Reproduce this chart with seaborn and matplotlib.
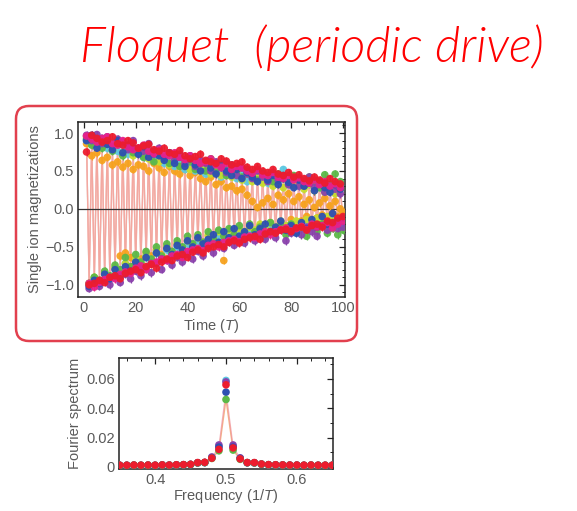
import numpy as np
import pandas as pd
import matplotlib
matplotlib.use("Agg")
import matplotlib.pyplot as plt
import seaborn as sns
from matplotlib.patches import FancyBboxPatch
from matplotlib.transforms import IdentityTransform
from matplotlib.ticker import MultipleLocator, FixedLocator, FixedFormatter

# ---------------- data: single-ion magnetizations ----------------
ions = ["orange", "cyan", "lime", "green", "purple", "blue", "pink", "red"]
ion_colors = {"red": "#ec1c2e", "pink": "#e8208a", "blue": "#2d50b2", "purple": "#8a42ac",
              "green": "#5cb848", "orange": "#f6a21f", "cyan": "#5cc8e2", "lime": "#c6dc2e"}

t_up = list(range(1, 100, 2))    # periods with positive magnetization
t_low = list(range(2, 101, 2))   # periods with negative magnetization

red_up = [.75, .97, .93, .88, .9, .95, .86, .84, .9, .87, .8, .83, .85, .78, .76, .8, .74, .72, .77, .7,
          .66, .69, .72, .64, .62, .6, .66, .63, .58, .6, .62, .55, .52, .56, .5, .48, .52, .46, .44, .48,
          .42, .45, .4, .37, .42, .38, .34, .4, .36, .33]
red_low = [-1.0, -.98, -.94, -.97, -.9, -.88, -.92, -.85, -.82, -.8, -.84, -.76, -.73, -.78, -.7, -.66, -.68, -.62, -.6, -.64,
           -.57, -.54, -.58, -.52, -.5, -.47, -.5, -.44, -.42, -.45, -.4, -.38, -.36, -.4, -.33, -.3, -.32, -.28, -.27, -.3,
           -.25, -.24, -.28, -.22, -.2, -.24, -.16, -.18, -.12, -.1]
pink_up = [.96, .92, .88, .93, .95, .86, .84, .9, .82, .78, .8, .84, .76, .73, .78, .72, .7, .74, .68, .65,
           .7, .64, .6, .62, .66, .58, .55, .6, .52, .56, .54, .5, .47, .52, .45, .44, .48, .42, .4, .44,
           .38, .41, .36, .34, .38, .32, .36, .3, .33, .28]
pink_low = [-.98, -1.03, -.97, -.93, -.9, -.92, -.86, -.83, -.85, -.78, -.75, -.8, -.72, -.7, -.66, -.68, -.62, -.6, -.64, -.56,
            -.54, -.52, -.55, -.48, -.46, -.5, -.44, -.42, -.4, -.43, -.37, -.36, -.38, -.33, -.3, -.34, -.3, -.27, -.25, -.29,
            -.26, -.23, -.27, -.2, -.24, -.22, -.18, -.25, -.2, -.16]
blue_up = [.9, .97, .8, .93, .85, .78, .9, .74, .84, .8, .72, .82, .68, .76, .7, .64, .74, .6, .68, .56,
           .66, .58, .5, .62, .54, .46, .58, .5, .44, .52, .4, .48, .42, .36, .46, .38, .44, .32, .4, .35,
           .28, .38, .3, .34, .24, .36, .28, .22, .32, .26]
blue_low = [-1.02, -.94, -.98, -.86, -.92, -.8, -.88, -.76, -.82, -.7, -.78, -.64, -.72, -.58, -.66, -.52, -.6, -.48, -.54, -.42,
            -.5, -.38, -.46, -.4, -.34, -.44, -.3, -.38, -.26, -.36, -.3, -.22, -.34, -.26, -.2, -.3, -.24, -.16, -.28, -.22,
            -.32, -.18, -.26, -.14, -.24, -.1, -.2, -.06, -.16, -.12]
purple_up = [.97, .9, .98, .86, .95, .82, .92, .88, .78, .9, .8, .76, .86, .72, .8, .68, .74, .64, .72, .6,
             .7, .56, .64, .6, .5, .62, .54, .48, .58, .44, .54, .46, .4, .5, .42, .36, .46, .38, .44, .32,
             .4, .3, .36, .42, .28, .34, .22, .3, .26, .2]
purple_low = [-1.05, -.98, -1.02, -.94, -1.0, -.9, -.97, -.86, -.92, -.82, -.88, -.78, -.84, -.72, -.8, -.68, -.74, -.64, -.7, -.6,
              -.66, -.56, -.62, -.5, -.58, -.46, -.52, -.44, -.48, -.4, -.45, -.36, -.42, -.34, -.4, -.3, -.38, -.28, -.42, -.32,
              -.26, -.34, -.24, -.3, -.36, -.22, -.28, -.2, -.26, -.24]
green_up = [.92, .84, .9, .8, .86, .76, .88, .7, .82, .74, .78, .68, .76, .62, .72, .66, .6, .7, .56, .64,
            .62, .52, .6, .5, .66, .48, .58, .44, .54, .5, .42, .52, .46, .38, .48, .44, .36, .46, .4, .34,
            .44, .38, .3, .42, .36, .28, .45, .32, .46, .36]
green_low = [-.98, -.9, -.94, -.82, -.88, -.74, -.8, -.64, -.76, -.6, -.7, -.56, -.66, -.5, -.62, -.46, -.56, -.42, -.5, -.36,
             -.46, -.34, -.44, -.3, -.4, -.28, -.36, -.26, -.34, -.22, -.32, -.2, -.3, -.24, -.36, -.18, -.28, -.22, -.34, -.2,
             -.3, -.26, -.36, -.24, -.3, -.2, -.32, -.26, -.34, -.28]
orange_up = [.86, .7, .74, .64, .68, .58, .62, .55, .6, .52, .58, .56, .5, .6, .54, .48, .56, .5, .46, .52,
             .44, .48, .4, .36, .42, .32, .36, .28, .3, .24, .26, .18, .1, .02, .08, .14, .06, .18, .12, .2,
             .1, .16, .06, .12, .02, .08, .14, .04, .1, .0]
orange_low = [-.98, -.92, -.96, -.86, -.9, -.78, -.62, -.58, -.64, -.72, -.66, -.58, -.62, -.54, -.6, -.5, -.56, -.46, -.52, -.42,
              -.48, -.4, -.44, -.36, -.42, -.34, -.68, -.38, -.32, -.28, -.36, -.26, -.3, -.22, -.28, -.2, -.26, -.18, -.24, -.14,
              -.2, -.16, -.1, -.18, -.12, -.08, -.14, -.06, -.1, -.04]
cyan_up = [.9, .95, .84, .9, .8, .88, .76, .84, .72, .8, .74, .68, .78, .64, .72, .6, .68, .56, .64, .52,
           .6, .5, .58, .46, .54, .48, .42, .52, .46, .4, .5, .36, .48, .4, .44, .34, .42, .36, .52, .32,
           .4, .3, .38, .32, .36, .28, .34, .26, .32, .3]
cyan_low = [-1.0, -.92, -.97, -.84, -.9, -.78, -.86, -.72, -.8, -.68, -.76, -.62, -.7, -.58, -.64, -.54, -.6, -.5, -.56, -.46,
            -.52, -.42, -.48, -.4, -.44, -.36, -.42, -.34, -.4, -.3, -.36, -.28, -.34, -.26, -.32, -.24, -.3, -.22, -.28, -.2,
            -.26, -.22, -.18, -.24, -.2, -.16, -.22, -.14, -.2, -.16]
lime_up = [.95, .86, .92, .82, .88, .78, .85, .74, .82, .7, .78, .72, .66, .74, .62, .7, .58, .66, .56, .62,
           .52, .6, .5, .56, .46, .54, .44, .5, .42, .48, .38, .46, .36, .42, .34, .4, .3, .38, .28, .36,
           .3, .34, .26, .32, .24, .3, .22, .28, .2, .26]
lime_low = [-.99, -.9, -.95, -.84, -.9, -.78, -.84, -.72, -.78, -.66, -.72, -.62, -.68, -.56, -.62, -.5, -.58, -.46, -.52, -.42,
            -.48, -.38, -.44, -.34, -.4, -.3, -.36, -.28, -.34, -.26, -.3, -.24, -.28, -.2, -.26, -.18, -.24, -.16, -.22, -.2,
            -.16, -.22, -.14, -.2, -.12, -.18, -.1, -.16, -.12, -.14]

mag_up = {"red": red_up, "pink": pink_up, "blue": blue_up, "purple": purple_up, "green": green_up,
          "orange": orange_up, "cyan": cyan_up, "lime": lime_up}
mag_low = {"red": red_low, "pink": pink_low, "blue": blue_low, "purple": purple_low, "green": green_low,
           "orange": orange_low, "cyan": cyan_low, "lime": lime_low}

# ---------------- data: Fourier spectrum ----------------
freq = [0.35, 0.36, 0.37, 0.38, 0.39, 0.40, 0.41, 0.42, 0.43, 0.44, 0.45, 0.46, 0.47, 0.48, 0.49, 0.50,
        0.51, 0.52, 0.53, 0.54, 0.55, 0.56, 0.57, 0.58, 0.59, 0.60, 0.61, 0.62, 0.63, 0.64, 0.65]
spec_red = [0.0012, 0.0012, 0.0013, 0.0012, 0.0013, 0.0012, 0.0014, 0.0013, 0.0015, 0.0016, 0.0018, 0.0030, 0.0032, 0.0060, 0.0120, 0.0560,
            0.0130, 0.0055, 0.0030, 0.0030, 0.0020, 0.0016, 0.0015, 0.0014, 0.0013, 0.0013, 0.0012, 0.0013, 0.0012, 0.0012, 0.0012]
spec_cyan = [0.0011, 0.0011, 0.0012, 0.0011, 0.0012, 0.0011, 0.0013, 0.0012, 0.0014, 0.0015, 0.0017, 0.0028, 0.0030, 0.0065, 0.0140, 0.0590,
             0.0140, 0.0060, 0.0029, 0.0028, 0.0019, 0.0015, 0.0014, 0.0013, 0.0012, 0.0012, 0.0011, 0.0012, 0.0011, 0.0011, 0.0011]
spec_purple = [0.0011, 0.0011, 0.0012, 0.0011, 0.0012, 0.0011, 0.0013, 0.0012, 0.0014, 0.0015, 0.0017, 0.0028, 0.0030, 0.0068, 0.0150, 0.0580,
               0.0150, 0.0062, 0.0029, 0.0028, 0.0019, 0.0015, 0.0014, 0.0013, 0.0012, 0.0012, 0.0011, 0.0012, 0.0011, 0.0011, 0.0011]
spec_blue = [0.0011, 0.0011, 0.0012, 0.0011, 0.0012, 0.0011, 0.0013, 0.0012, 0.0014, 0.0015, 0.0017, 0.0028, 0.0030, 0.0062, 0.0135, 0.0510,
             0.0135, 0.0058, 0.0029, 0.0028, 0.0019, 0.0015, 0.0014, 0.0013, 0.0012, 0.0012, 0.0011, 0.0012, 0.0011, 0.0011, 0.0011]
spec_green = [0.0011, 0.0011, 0.0012, 0.0011, 0.0012, 0.0011, 0.0013, 0.0012, 0.0014, 0.0015, 0.0017, 0.0028, 0.0030, 0.0058, 0.0110, 0.0460,
              0.0115, 0.0052, 0.0029, 0.0028, 0.0019, 0.0015, 0.0014, 0.0013, 0.0012, 0.0012, 0.0011, 0.0012, 0.0011, 0.0011, 0.0011]
spectra = {"cyan": spec_cyan, "purple": spec_purple, "blue": spec_blue, "green": spec_green, "red": spec_red}

# ---------------- tables ----------------
rows = []
for ion in ions:
    assert len(mag_up[ion]) == len(t_up), (ion, "up", len(mag_up[ion]))
    assert len(mag_low[ion]) == len(t_low), (ion, "low", len(mag_low[ion]))
    for t, m in zip(t_up, mag_up[ion]):
        rows.append((ion, t, m))
    for t, m in zip(t_low, mag_low[ion]):
        rows.append((ion, t, m))
mag_df = pd.DataFrame(rows, columns=["ion", "t", "m"])

srows = []
for ion, vals in spectra.items():
    assert len(vals) == len(freq), ion
    for f, v in zip(freq, vals):
        srows.append((ion, f, v))
spec_df = pd.DataFrame(srows, columns=["ion", "f", "a"])

# ---------------- figure ----------------
sns.set_style("white")
plt.rcParams["font.family"] = ["Liberation Sans", "DejaVu Sans"]
plt.rcParams["mathtext.fontset"] = "custom"
plt.rcParams["mathtext.it"] = "Liberation Sans:italic"
plt.rcParams["mathtext.rm"] = "Liberation Sans"

W, H = 577, 511
fig = plt.figure(figsize=(W / 100, H / 100), dpi=100)
fig.patch.set_facecolor("white")

gray = "#5a5a5a"
fs = 10.5

# handwritten-like title
fig.text(312 / W, 1 - 48 / H, "Floquet  (periodic drive)", color="#ff0000", fontsize=35,
         family=["Lato", "DejaVu Sans"], style="italic", weight=300, ha="center", va="center")

# red rounded frame around the top panel
frame = FancyBboxPatch((16, H - 341), 341, 235, boxstyle="round,pad=0,rounding_size=13",
                       transform=IdentityTransform(), fill=False, ec="#e2404e", lw=1.8)
fig.add_artist(frame)

# ---------- top panel ----------
ax = fig.add_axes([78 / W, (H - 297) / H, 267 / W, 175 / H])
for ion in ions:
    sub = mag_df[mag_df.ion == ion].sort_values("t")
    sns.lineplot(data=sub, x="t", y="m", ax=ax, color="#f3a49c", lw=0.9, alpha=0.3,
                 estimator=None, sort=True, legend=False, zorder=1)
ax.axhline(0, color="#333333", lw=0.9, zorder=2)
for ion in ions:
    sub = mag_df[mag_df.ion == ion]
    ax.errorbar(sub.t, sub.m, yerr=0.05, fmt="none", ecolor=ion_colors[ion], elinewidth=0.9, zorder=3)
sns.scatterplot(data=mag_df, x="t", y="m", hue="ion", hue_order=ions, palette=ion_colors,
                s=30, linewidth=0, legend=False, ax=ax, zorder=4, alpha=0.95)
ax.set_xlim(-2.3, 100.8)
ax.set_ylim(-1.16, 1.145)
ax.xaxis.set_major_locator(MultipleLocator(20))
ax.xaxis.set_minor_locator(MultipleLocator(5))
ax.yaxis.set_major_locator(FixedLocator([-1.0, -0.5, 0.0, 0.5, 1.0]))
ax.yaxis.set_major_formatter(FixedFormatter(["\u22121.0", "\u22120.5", "0.0", "0.5", "1.0"]))
ax.yaxis.set_minor_locator(MultipleLocator(0.1))
ax.set_xlabel("Time ($\\mathit{T}$)", fontsize=fs, color=gray, labelpad=1)
ax.set_ylabel("Single ion magnetizations", fontsize=fs, color=gray, labelpad=2)

# ---------- bottom panel ----------
bx = fig.add_axes([119 / W, (H - 469) / H, 214 / W, 111 / H])
sns.lineplot(data=spec_df[spec_df.ion == "green"], x="f", y="a", ax=bx, color="#f2a56a", lw=1.0,
             alpha=0.8, estimator=None, legend=False, zorder=1)
sns.lineplot(data=spec_df[spec_df.ion == "blue"], x="f", y="a", ax=bx, color="#f0909a", lw=1.0,
             alpha=0.7, estimator=None, legend=False, zorder=1)
sns.scatterplot(data=spec_df, x="f", y="a", hue="ion", hue_order=list(spectra.keys()), palette=ion_colors,
                s=30, linewidth=0, legend=False, ax=bx, zorder=3)
bx.set_xlim(0.349, 0.651)
bx.set_ylim(-0.0014, 0.0743)
bx.xaxis.set_major_locator(FixedLocator([0.4, 0.5, 0.6]))
bx.xaxis.set_major_formatter(FixedFormatter(["0.4", "0.5", "0.6"]))
bx.xaxis.set_minor_locator(MultipleLocator(0.02))
bx.yaxis.set_major_locator(FixedLocator([0, 0.02, 0.04, 0.06]))
bx.yaxis.set_major_formatter(FixedFormatter(["0", "0.02", "0.04", "0.06"]))
bx.yaxis.set_minor_locator(MultipleLocator(0.01))
bx.set_xlabel("Frequency (1/$\\mathit{T}$)", fontsize=fs, color=gray, labelpad=0)
bx.set_ylabel("Fourier spectrum", fontsize=fs, color=gray, labelpad=3)

for a in (ax, bx):
    for sp in a.spines.values():
        sp.set_color("#222222")
        sp.set_linewidth(1.1)
    a.tick_params(which="both", direction="in", top=True, right=True, colors="#222222",
                  labelcolor=gray, labelsize=fs)
    a.tick_params(which="major", length=4, width=0.9, pad=3)
    a.tick_params(which="minor", length=2, width=0.7)

fig.savefig("out.png", dpi=100)
